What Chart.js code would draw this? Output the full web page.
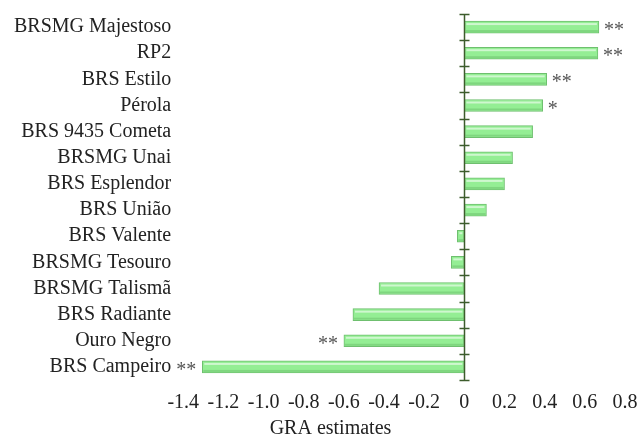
<!DOCTYPE html>
<html>
<head>
<meta charset="utf-8">
<script src="https://cdn.jsdelivr.net/npm/chart.js@4.4.1/dist/chart.umd.min.js"></script>
<style>
  html, body { margin: 0; padding: 0; background: #fff; }
  #wrap { width: 638px; height: 436px; position: relative; }
</style>
</head>
<body>
<div id="wrap"><canvas id="graChart"></canvas></div>
<script>
// cultivars, top to bottom
const cultivars = [
    'BRSMG Majestoso', 'RP2', 'BRS Estilo', 'Pérola', 'BRS 9435 Cometa',
    'BRSMG Unai', 'BRS Esplendor', 'BRS União', 'BRS Valente', 'BRSMG Tesouro',
    'BRSMG Talismã', 'BRS Radiante', 'Ouro Negro', 'BRS Campeiro'
];
const graValues = [
    0.67, 0.665, 0.41, 0.39, 0.34,
    0.24, 0.20, 0.11, -0.035, -0.065,
    -0.425, -0.555, -0.60, -1.305
];
const significance = [
    '**', '**', '**', '*', '',
    '', '', '', '', '',
    '', '', '**', '**'
];
const xTickLabels = ['-1.4', '-1.2', '-1.0', '-0.8', '-0.6', '-0.4', '-0.2', '0', '0.2', '0.4', '0.6', '0.8'];
const xMin = -1.4, xMax = 0.8, xStep = 0.2;
const xTitle = 'GRA estimates';

const SERIF = '"Liberation Serif", "Times New Roman", serif';
const AXIS_GREEN = '#3d5c2c';

// zero line with tick marks crossing it at the category boundaries
const zeroAxis = {
    id: 'zeroAxis',
    afterDatasetsDraw(chart) {
        const { ctx, scales: { x, y } } = chart;
        const x0 = Math.round(x.getPixelForValue(0)) + 0.5;
        const n = cultivars.length;
        const step = (y.bottom - y.top) / n;
        ctx.save();
        ctx.strokeStyle = AXIS_GREEN;
        ctx.lineWidth = 1.5;
        ctx.beginPath();
        ctx.moveTo(x0, y.top);
        ctx.lineTo(x0, y.bottom);
        for (let i = 0; i <= n; i++) {
            const py = Math.round(y.top + i * step) + 0.5;
            ctx.moveTo(x0 - 5, py);
            ctx.lineTo(x0 + 5, py);
        }
        ctx.stroke();
        ctx.restore();
    }
};

// glossy stripe on each bar + significance stars
const barDecor = {
    id: 'barDecor',
    afterDatasetsDraw(chart) {
        const { ctx } = chart;
        const meta = chart.getDatasetMeta(0);
        ctx.save();
        meta.data.forEach((bar) => {
            const left = Math.min(bar.x, bar.base);
            const w = Math.abs(bar.x - bar.base);
            const top = bar.y - bar.height / 2;
            ctx.fillStyle = 'rgba(255,255,255,0.55)';
            ctx.fillRect(left + 2, top + 2, Math.max(w - 4, 0), 2);
            ctx.fillStyle = 'rgba(90,170,90,0.35)';
            ctx.fillRect(left + 1, top + bar.height - 3, Math.max(w - 2, 0), 2);
        });
        ctx.font = '20px ' + SERIF;
        ctx.fillStyle = '#555';
        meta.data.forEach((bar, i) => {
            const mark = significance[i];
            if (!mark) return;
            if (graValues[i] >= 0) {
                ctx.textAlign = 'left';
                ctx.fillText(mark, bar.x + 5, bar.y + 9);
            } else {
                ctx.textAlign = 'right';
                ctx.fillText(mark, bar.x - 6, bar.y + 9);
            }
        });
        ctx.restore();
    }
};

// axis title (sits left of the plot centre in the original)
const axisTitle = {
    id: 'axisTitle',
    afterDraw(chart) {
        const { ctx } = chart;
        ctx.save();
        ctx.font = '20px ' + SERIF;
        ctx.fillStyle = '#222';
        ctx.textAlign = 'center';
        ctx.textBaseline = 'alphabetic';
        ctx.fillText(xTitle, chart.width * 0.518, chart.height - 2);
        ctx.restore();
    }
};

new Chart(document.getElementById('graChart'), {
    type: 'bar',
    data: {
        labels: cultivars,
        datasets: [{
            data: graValues,
            backgroundColor: '#94ee94',
            borderColor: '#6fbf6f',
            borderWidth: 1,
            borderSkipped: false,
            barThickness: 12
        }]
    },
    options: {
        indexAxis: 'y',
        responsive: true,
        maintainAspectRatio: false,
        animation: false,
        layout: { padding: { left: 2, top: 14, right: 0, bottom: 10 } },
        plugins: {
            legend: { display: false },
            tooltip: { enabled: false }
        },
        scales: {
            x: {
                type: 'linear',
                min: xMin,
                max: xMax,
                grid: { display: false, drawTicks: false },
                border: { display: false },
                afterFit: (s) => { s.paddingLeft = 0; s.paddingRight = 13; },
                ticks: {
                    stepSize: xStep,
                    padding: 11,
                    color: '#222',
                    font: { family: SERIF, size: 20 },
                    maxRotation: 0,
                    autoSkip: false,
                    callback: (v, i) => xTickLabels[i]
                }
            },
            y: {
                grid: { display: false, drawTicks: false },
                border: { display: false },
                afterFit: (s) => { s.paddingTop = 0; s.paddingBottom = 0; },
                ticks: {
                    padding: 12,
                    autoSkip: false,
                    color: '#222',
                    font: { family: SERIF, size: 20 }
                }
            }
        }
    },
    plugins: [zeroAxis, barDecor, axisTitle]
});
</script>
</body>
</html>
